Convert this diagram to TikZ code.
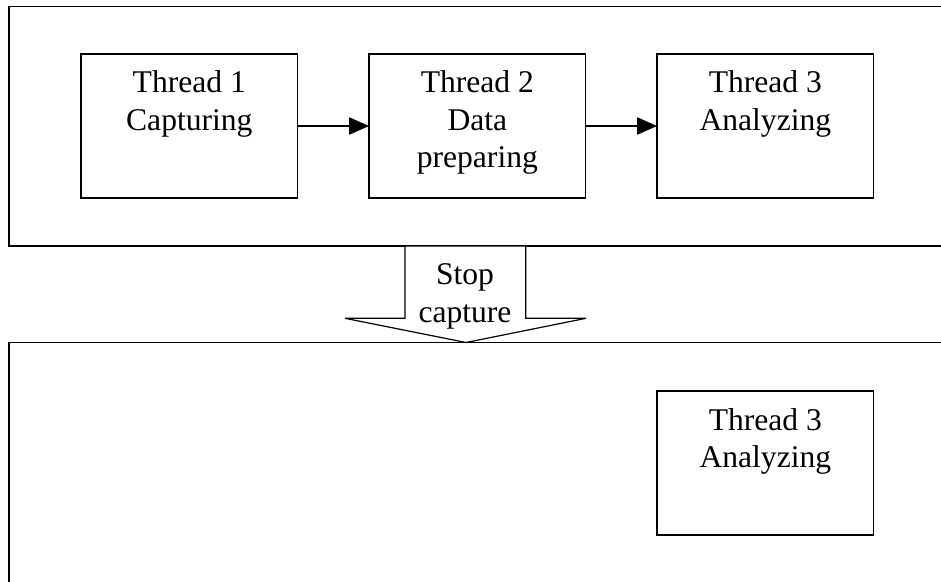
\documentclass[tikz,border=0pt]{standalone}
\usepackage{fontspec}
\setmainfont{Liberation Serif}
\usetikzlibrary{arrows.meta}

% one unit = one pixel of a 941 x 581 canvas, y growing downwards
\tikzset{
  x=0.75pt, y=-0.75pt,
  frame/.style={draw, line width=0.9pt},
  thread/.style={draw, line width=0.9pt, inner sep=0pt, outer sep=0pt,
    minimum width=162.5pt, minimum height=108pt, anchor=north west},
  flow/.style={line width=0.9pt, -{Triangle[length=15pt, width=13pt]}},
  bigarrow/.style={draw, fill=white, line width=0.9pt, line join=miter},
}
\newcommand{\labelfont}{\fontsize{23.7pt}{28.1pt}\selectfont}
\newcommand{\threadtext}[1]{%
  \parbox[t][108pt][t]{160pt}{\centering\labelfont
    \rule{0pt}{29.25pt}#1}}

\begin{document}
\begin{tikzpicture}
  \useasboundingbox (0,0) rectangle (941,581);
  \clip (0,0) rectangle (941,581);

  % running stage and stopping stage
  \draw[frame] (9,6.5) rectangle (990,246);
  \draw[frame] (9,342.5) rectangle (990,700);

  % threads of the running stage
  \node[thread] (t1) at (81,54) {\threadtext{Thread 1\\Capturing}};
  \node[thread] (t2) at (369,54) {\threadtext{Thread 2\\Data\\preparing}};
  \node[thread] (t3) at (657,54) {\threadtext{Thread 3\\Analyzing}};

  \draw[flow] (t1.east) -- (t2.west);
  \draw[flow] (t2.east) -- (t3.west);

  % thread left in the stopping stage
  \node[thread] (t3b) at (657,391) {\threadtext{Thread 3\\Analyzing}};

  % transition between the stages
  \coordinate (sa) at (405,246);
  \coordinate (sb) at (525.7,246);
  \coordinate (tip) at (466,342.5);
  \draw[bigarrow] (sa) -- (405,318.3) -- (345,318.3) -- (tip)
    -- (586,318.3) -- (525.7,318.3) -- (sb) -- cycle;
  \node[align=center, inner sep=0pt, anchor=base, font=\labelfont] (stoplbl)
    at (465,322) {Stop\\capture};
\end{tikzpicture}
\end{document}
